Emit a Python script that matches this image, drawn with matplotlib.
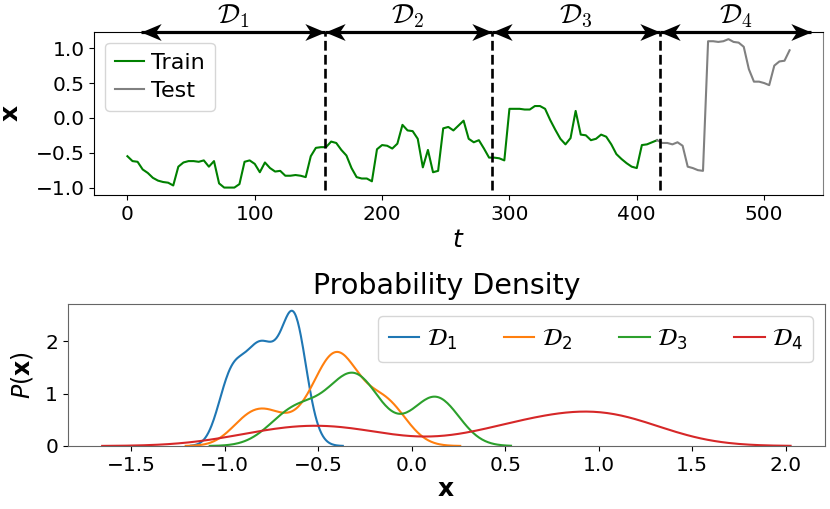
import numpy as np
import matplotlib
matplotlib.use("Agg")
import matplotlib.pyplot as plt
from matplotlib.path import Path

# ---------------- data ----------------
t_step = 4
x_values = [
    -0.55, -0.62, -0.63, -0.74, -0.79, -0.86, -0.90, -0.92, -0.93, -0.97,   # 0-36
    -0.70, -0.64, -0.62, -0.62, -0.63, -0.61, -0.70, -0.62, -0.94, -1.00,   # 40-76
    -1.00, -1.00, -0.95, -0.63, -0.61, -0.66, -0.78, -0.64, -0.72, -0.77,   # 80-116
    -0.76, -0.83, -0.83, -0.82, -0.83, -0.85, -0.55, -0.43, -0.42, -0.42,   # 120-156
    -0.34, -0.36, -0.46, -0.54, -0.72, -0.85, -0.87, -0.87, -0.91, -0.45,   # 160-196
    -0.39, -0.40, -0.44, -0.37, -0.10, -0.18, -0.19, -0.30, -0.71, -0.46,   # 200-236
    -0.78, -0.76, -0.15, -0.13, -0.18, -0.11, -0.04, -0.30, -0.35, -0.32,   # 240-276
    -0.44, -0.57, -0.57, -0.58, -0.61, 0.13, 0.13, 0.13, 0.12, 0.12,        # 280-316
    0.17, 0.17, 0.13, -0.03, -0.17, -0.30, -0.38, -0.29, 0.10, -0.24,       # 320-356
    -0.25, -0.32, -0.30, -0.24, -0.27, -0.38, -0.52, -0.59, -0.65, -0.70,   # 360-396
    -0.72, -0.39, -0.38, -0.35, -0.32, -0.36, -0.36, -0.38, -0.35, -0.40,   # 400-436
    -0.70, -0.72, -0.75, -0.76, 1.10, 1.10, 1.09, 1.10, 1.13, 1.09,         # 440-476
    1.08, 1.02, 0.70, 0.52, 0.52, 0.50, 0.47, 0.75, 0.81, 0.82,             # 480-516
    0.97,                                                                    # 520
]
train_end = 416          # last training time step
boundaries = [155, 286, 418]          # dashed split lines
arrow_spans = [(11, 155), (155, 286), (286, 418), (418, 537)]
segment_labels = [r"$\mathcal{D}_1$", r"$\mathcal{D}_2$", r"$\mathcal{D}_3$", r"$\mathcal{D}_4$"]
kde_ranges = [(0, 141), (143, 285), (287, 417), (419, 521)]   # time windows of each D
kde_bw_adjust = [0.9, 0.85, 0.85, 0.8]
top_xticks = [0, 100, 200, 300, 400, 500]
top_yticks = [-1.0, -0.5, 0.0, 0.5, 1.0]
bottom_yticks = [0, 1, 2]

x_values = np.array(x_values)
t = np.arange(len(x_values)) * t_step

def gaussian_kde_curve(vals, bw_adjust=1.0, cut=3, gridsize=200):
    vals = np.asarray(vals, float)
    n = len(vals)
    bw = vals.std(ddof=1) * n ** (-1 / 5) * bw_adjust
    grid = np.linspace(vals.min() - cut * bw, vals.max() + cut * bw, gridsize)
    dens = np.exp(-0.5 * ((grid[:, None] - vals[None, :]) / bw) ** 2).sum(1)
    dens /= n * bw * np.sqrt(2 * np.pi)
    return grid, dens

# concave ("stealth") arrow heads, tip at the marker origin
head_left = Path([(0, 0), (1, 0.42), (0.72, 0), (1, -0.42), (0, 0)],
                 [Path.MOVETO, Path.LINETO, Path.LINETO, Path.LINETO, Path.CLOSEPOLY])
head_right = Path([(0, 0), (-1, 0.42), (-0.72, 0), (-1, -0.42), (0, 0)],
                  [Path.MOVETO, Path.LINETO, Path.LINETO, Path.LINETO, Path.CLOSEPOLY])

# ---------------- figure ----------------
fig = plt.figure(figsize=(8.3, 5.09), dpi=100)
ax1 = fig.add_axes([0.1136, 0.6169, 0.8776, 0.3208])
ax2 = fig.add_axes([0.0816, 0.1238, 0.9124, 0.2790])

tick_fs = 14.5
train = t <= train_end
test = t >= train_end
ax1.plot(t[train], x_values[train], color="green", lw=1.5, label="Train")
ax1.plot(t[test], x_values[test], color="gray", lw=1.5, label="Test")
for b in boundaries:
    ax1.axvline(b, ymin=0.03, ymax=1.0, color="black", ls="--", lw=1.9)
ax1.set_xticks(top_xticks)
ax1.set_yticks(top_yticks)
ax1.set_xlabel(r"$t$", fontsize=18, labelpad=3)
ax1.set_ylabel(r"$\mathbf{x}$", fontsize=18, labelpad=9)
ax1.tick_params(labelsize=tick_fs)
ax1.spines["right"].set_color("0.5")
ax1.legend(loc="upper left", fontsize=16, handlelength=1.3, handletextpad=0.3,
           labelspacing=0.35, borderpad=0.45)

xtr = ax1.get_xaxis_transform()
for (a, b), lab in zip(arrow_spans, segment_labels):
    ax1.plot([a, b], [1.0, 1.0], color="black", lw=2.3, transform=xtr,
             clip_on=False, scalex=False, scaley=False, solid_capstyle="butt")
    ax1.plot([a], [1.0], marker=head_left, ms=29, color="black", mew=0,
             transform=xtr, clip_on=False, scalex=False, scaley=False)
    ax1.plot([b], [1.0], marker=head_right, ms=29, color="black", mew=0,
             transform=xtr, clip_on=False, scalex=False, scaley=False)
    ax1.text((a + b) / 2, 1.01, lab, transform=xtr,
             ha="center", va="bottom", fontsize=20, math_fontfamily="cm")

colors = ["#1f77b4", "#ff7f0e", "#2ca02c", "#d62728"]
for (lo, hi), lab, c, bwa in zip(kde_ranges, segment_labels, colors, kde_bw_adjust):
    sel = (t >= lo) & (t < hi)
    g, d = gaussian_kde_curve(x_values[sel], bwa)
    ax2.plot(g, d, color=c, lw=1.5, label=lab)
ax2.set_ylim(bottom=0)
ax2.set_yticks(bottom_yticks)
ax2.set_title("Probability Density", fontsize=20.5, pad=7)
ax2.set_xlabel(r"$\mathbf{x}$", fontsize=18, labelpad=2)
ax2.set_ylabel(r"$P(\mathbf{x})$", fontsize=17, labelpad=7)
ax2.tick_params(labelsize=tick_fs)
for s in ax2.spines.values():
    s.set_color("0.4")
ax2.legend(loc="upper right", ncol=4, fontsize=17, handlelength=1.3,
           handletextpad=0.3, columnspacing=2.0, borderpad=0.45)

fig.savefig("out.png", dpi=100)
